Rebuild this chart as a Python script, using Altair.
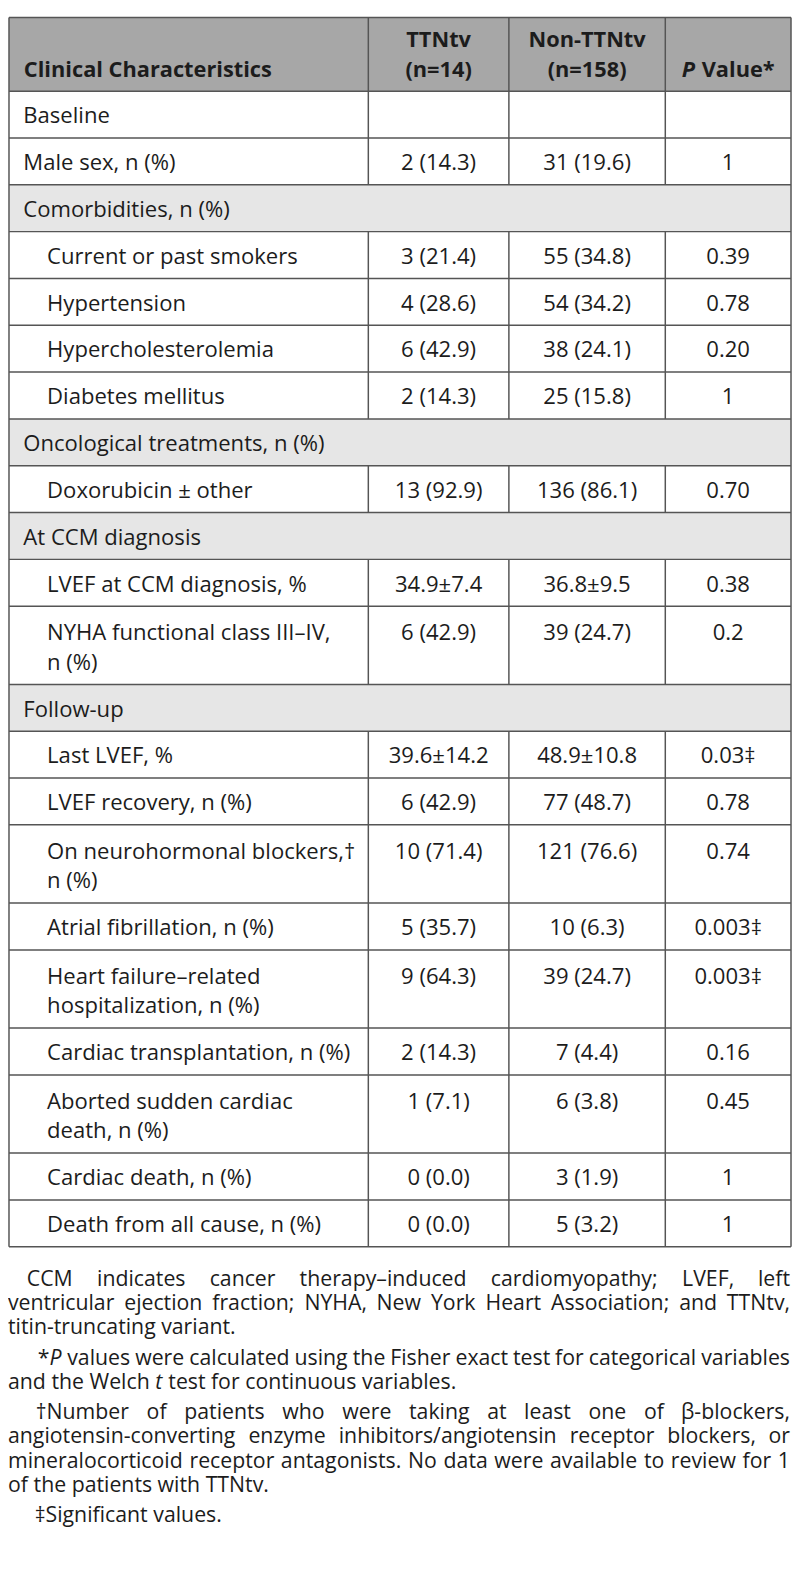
import altair as alt
import pandas as pd

# ------------------------------------------------------------------ data
row_labels = [
    "Baseline",
    "Male sex, n (%)",
    "Comorbidities, n (%)",
    "Current or past smokers",
    "Hypertension",
    "Hypercholesterolemia",
    "Diabetes mellitus",
    "Oncological treatments, n (%)",
    "Doxorubicin ± other",
    "At CCM diagnosis",
    "LVEF at CCM diagnosis, %",
    "NYHA functional class III–IV,\nn (%)",
    "Follow-up",
    "Last LVEF, %",
    "LVEF recovery, n (%)",
    "On neurohormonal blockers,†\nn (%)",
    "Atrial fibrillation, n (%)",
    "Heart failure–related\nhospitalization, n (%)",
    "Cardiac transplantation, n (%)",
    "Aborted sudden cardiac\ndeath, n (%)",
    "Cardiac death, n (%)",
    "Death from all cause, n (%)",
]
row_kind = ["plain", "plain", "section", "item", "item", "item", "item",
            "section", "item", "section", "item", "item", "section", "item",
            "item", "item", "item", "item", "item", "item", "item", "item"]
ttntv = ["", "2 (14.3)", "", "3 (21.4)", "4 (28.6)", "6 (42.9)", "2 (14.3)",
         "", "13 (92.9)", "", "34.9±7.4", "6 (42.9)", "", "39.6±14.2",
         "6 (42.9)", "10 (71.4)", "5 (35.7)", "9 (64.3)", "2 (14.3)",
         "1 (7.1)", "0 (0.0)", "0 (0.0)"]
non_ttntv = ["", "31 (19.6)", "", "55 (34.8)", "54 (34.2)", "38 (24.1)",
             "25 (15.8)", "", "136 (86.1)", "", "36.8±9.5", "39 (24.7)", "",
             "48.9±10.8", "77 (48.7)", "121 (76.6)", "10 (6.3)", "39 (24.7)",
             "7 (4.4)", "6 (3.8)", "3 (1.9)", "5 (3.2)"]
p_value = ["", "1", "", "0.39", "0.78", "0.20", "1", "", "0.70", "", "0.38",
           "0.2", "", "0.03‡", "0.78", "0.74", "0.003‡", "0.003‡", "0.16",
           "0.45", "1", "1"]

header_first = "Clinical Characteristics"
header_groups = ["TTNtv\n(n=14)", "Non-TTNtv\n(n=158)"]
header_p = ("P", "Value*")

footnote_paragraphs = [
    ["CCM indicates cancer therapy–induced cardiomyopathy; LVEF, left",
     "ventricular ejection fraction; NYHA, New York Heart Association; and TTNtv,",
     "titin-truncating variant."],
    ["*{P} values were calculated using the Fisher exact test for categorical variables",
     "and the Welch {t} test for continuous variables."],
    ["†Number of patients who were taking at least one of β-blockers,",
     "angiotensin-converting enzyme inhibitors/angiotensin receptor blockers, or",
     "mineralocorticoid receptor antagonists. No data were available to review for 1",
     "of the patients with TTNtv."],
    ["‡Significant values."],
]

# ------------------------------------------------------------------ layout / style
FONT = "Open Sans"
FS = 22.3          # body cells
FS_HEAD = 22       # bold header
FN_FS = 21.5       # footnotes
W_PX, H_PX = 792, 1567
PX0, PY0 = 8, 8                 # page offset of the plot area
COLS = [9, 372, 514, 672, 799]  # column boundaries (page px)
CENTERS = [(372 + 514) / 2, (514 + 672) / 2, (672 + 799) / 2]
HEAD_TOP, HEAD_BOT = 8.7, 83
SINGLE, DOUBLE = 47.3, 79.0
LINE_C = "#555555"
TEXT_C = "#1c1c1c"
HEAD_BG = "#a7a7a7"
SEC_BG = "#e6e6e6"

# Open Sans advance widths (units / 2048), used to justify the footnotes
_W = {' ': 532, 'a': 1139, 'b': 1255, 'c': 975, 'd': 1255, 'e': 1149, 'f': 694,
      'g': 1122, 'h': 1257, 'i': 518, 'j': 518, 'k': 1075, 'l': 518, 'm': 1905,
      'n': 1257, 'o': 1237, 'p': 1255, 'q': 1255, 'r': 836, 's': 977, 't': 723,
      'u': 1257, 'v': 1026, 'w': 1593, 'x': 1073, 'y': 1028, 'z': 977,
      'A': 1296, 'B': 1327, 'C': 1292, 'D': 1493, 'E': 1139, 'F': 1057,
      'G': 1491, 'H': 1511, 'I': 571, 'J': 547, 'K': 1257, 'L': 1063,
      'M': 1849, 'N': 1544, 'O': 1595, 'P': 1233, 'Q': 1595, 'R': 1266,
      'S': 1124, 'T': 1133, 'U': 1491, 'V': 1219, 'W': 1896, 'X': 1182,
      'Y': 1147, 'Z': 1169, ',': 502, '.': 545, ';': 545, ':': 545, '-': 659,
      '–': 1024, '/': 752, '*': 1128, '(': 590, ')': 590, '%': 1702,
      '†': 1034, '‡': 1034, 'β': 1255, '±': 1171, '=': 1171}


def text_w(s, size, bold=False):
    u = sum(_W.get(ch, 1171 if ch.isdigit() else 1100) for ch in s)
    return u / 2048.0 * size * (1.07 if bold else 1.0)


# rows
tops, bots = [], []
y = HEAD_BOT
for lab in row_labels:
    h = DOUBLE if "\n" in lab else SINGLE
    tops.append(y)
    bots.append(y + h)
    y += h
TABLE_BOT = bots[-1]

rows = pd.DataFrame({"label": row_labels, "kind": row_kind, "top": tops,
                     "bot": bots, "t1": ttntv, "t2": non_ttntv, "t3": p_value})
rows["ty"] = [t + (34 if "\n" in l else 32.5) for t, l in zip(tops, row_labels)]
rows["lx"] = [47.5 if k == "item" else 23.5 for k in row_kind]

# backgrounds
bg = [dict(x=COLS[0], x2=COLS[-1], y=PY0, y2=HEAD_BOT, fill=HEAD_BG)]
for r in rows.itertuples():
    if r.kind == "section":
        bg.append(dict(x=COLS[0], x2=COLS[-1], y=r.top, y2=r.bot, fill=SEC_BG))
bg = pd.DataFrame(bg)

# horizontal rules
hl = pd.DataFrame({"y": [HEAD_TOP, HEAD_BOT] + bots})
hl["x"], hl["x2"] = COLS[0], COLS[-1]

# vertical rules
vl = [dict(x=COLS[0], y=HEAD_TOP, y2=TABLE_BOT), dict(x=COLS[-1], y=HEAD_TOP, y2=TABLE_BOT)]
spans = [(HEAD_TOP, HEAD_BOT)] + [(r.top, r.bot) for r in rows.itertuples() if r.kind != "section"]
for a, b in spans:
    for cx in COLS[1:-1]:
        vl.append(dict(x=cx, y=a, y2=b))
vl = pd.DataFrame(vl)

# cell values
vals = []
for r in rows.itertuples():
    for cx, t in zip(CENTERS, (r.t1, r.t2, r.t3)):
        if t:
            vals.append(dict(x=cx, y=r.ty, text=t))
vals = pd.DataFrame(vals)

# header
head_left = pd.DataFrame([dict(x=24, y=69, text=header_first)])
head_center = pd.DataFrame([dict(x=CENTERS[0], y=38, text=header_groups[0]),
                            dict(x=CENTERS[1], y=38, text=header_groups[1])])
pw = text_w(header_p[0], FS_HEAD, True)
sw = text_w(" ", FS_HEAD, True)
vw = text_w(header_p[1], FS_HEAD, True)
p_left = CENTERS[2] - (pw + sw + vw) / 2
head_p_it = pd.DataFrame([dict(x=p_left, y=69, text=header_p[0])])
head_p_rest = pd.DataFrame([dict(x=p_left + pw + sw, y=69, text=header_p[1])])

# footnotes (justified)
FN_Y0, FN_L, FN_GAP = 1290, 24.5, 6
FN_LEFT, FN_RIGHT = 8, 798
FN_INDENT = [27, 38, 36, 35]


def parse_groups(line):
    groups = []
    for word in line.split(" "):
        segs, buf, ital = [], "", False
        for ch in word:
            if ch == "{":
                if buf:
                    segs.append((buf, False))
                buf, ital = "", True
            elif ch == "}":
                segs.append((buf, True))
                buf, ital = "", False
            else:
                buf += ch
        if buf:
            segs.append((buf, ital))
        groups.append(segs)
    return groups


fn_recs = []
yy = FN_Y0
for pi, para in enumerate(footnote_paragraphs):
    for li, line in enumerate(para):
        left = FN_INDENT[pi] if li == 0 else FN_LEFT
        justify = li < len(para) - 1
        groups = parse_groups(line)
        widths = [sum(text_w(s, FN_FS) for s, _ in g) for g in groups]
        gap = ((FN_RIGHT - left - sum(widths)) / (len(groups) - 1)
               if justify and len(groups) > 1 else text_w(" ", FN_FS))
        x = left
        for gi, (g, w) in enumerate(zip(groups, widths)):
            if justify and gi == len(groups) - 1 and len(g) == 1:
                fn_recs.append(dict(x=FN_RIGHT, y=yy, text=g[0][0], al="right", italic=g[0][1]))
            else:
                sx = x
                for s, it in g:
                    fn_recs.append(dict(x=sx, y=yy, text=s, al="left", italic=it))
                    sx += text_w(s, FN_FS)
            x += w + gap
        yy += FN_L
    yy += FN_GAP
fn = pd.DataFrame(fn_recs)

# ------------------------------------------------------------------ chart
# scales in page pixels: the plot area starts at the 8px page margin
xs = alt.Scale(domain=[PX0, PX0 + W_PX], nice=False, zero=False)
ys = alt.Scale(domain=[PY0, PY0 + H_PX], nice=False, zero=False, reverse=True)


def X(f="x"):
    return alt.X(f"{f}:Q", scale=xs, axis=None)


def Y(f="y"):
    return alt.Y(f"{f}:Q", scale=ys, axis=None)


backgrounds = alt.Chart(bg).mark_rect(strokeWidth=0).encode(
    x=X(), x2="x2:Q", y=Y(), y2="y2:Q", color=alt.Color("fill:N", scale=None))
hrules = alt.Chart(hl).mark_rule(color=LINE_C, strokeWidth=1.5).encode(
    x=X(), x2="x2:Q", y=Y())
vrules = alt.Chart(vl).mark_rule(color=LINE_C, strokeWidth=1.5).encode(
    x=X(), y=Y(), y2="y2:Q")


def txt(df, align="left", weight="normal", style="normal", size=FS, lh=30):
    return alt.Chart(df).mark_text(
        align=align, baseline="alphabetic", font=FONT, fontSize=size,
        fontWeight=weight, fontStyle=style, color=TEXT_C, lineBreak="\n",
        lineHeight=lh).encode(x=X(), y=Y(), text="text:N")


labels_layer = alt.Chart(rows).mark_text(
    align="left", baseline="alphabetic", font=FONT, fontSize=FS,
    color=TEXT_C, lineBreak="\n", lineHeight=30).encode(
    x=X("lx"), y=Y("ty"), text="label:N")
values_layer = txt(vals, align="center")
head1 = txt(head_left, weight="bold", size=FS_HEAD)
head2 = txt(head_center, align="center", weight="bold", size=FS_HEAD, lh=31)
head3 = txt(head_p_it, weight="bold", style="italic", size=FS_HEAD)
head4 = txt(head_p_rest, weight="bold", size=FS_HEAD)

fn_l = fn[(fn["al"] == "left") & (~fn["italic"])]
fn_li = fn[(fn["al"] == "left") & (fn["italic"])]
fn_r = fn[fn["al"] == "right"]
foot1 = txt(fn_l, size=FN_FS)
foot2 = txt(fn_li, size=FN_FS, style="italic")
foot3 = txt(fn_r, align="right", size=FN_FS)

chart = alt.layer(
    backgrounds, hrules, vrules, labels_layer, values_layer,
    head1, head2, head3, head4, foot1, foot2, foot3,
).properties(width=W_PX, height=H_PX, padding=0, background="white"
).configure_view(stroke=None)

chart.save("out.html", embed_options={"renderer": "svg", "actions": False})
